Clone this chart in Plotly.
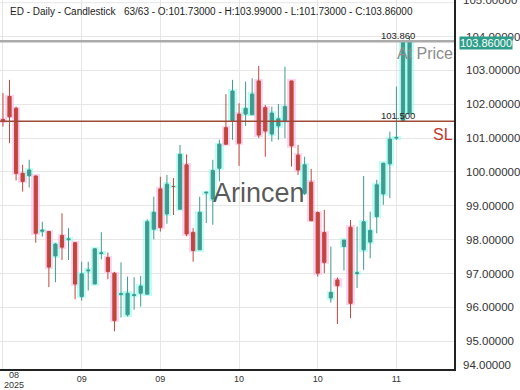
import plotly.graph_objects as go

# ---------------- data ----------------
opens = [101.55, 102.23, 101.88, 99.96, 99.89, 99.88, 98.25, 98.24, 97.52, 98.12,
         98.00, 97.91, 96.32, 97.08, 96.69, 97.59, 97.47, 97.01, 96.38, 95.78,
         96.35, 96.42, 96.39, 98.31, 99.50, 98.76, 99.57, 98.90, 100.21, 98.21,
         97.70, 99.38, 99.20, 100.11, 101.31, 101.52, 101.71, 101.71, 101.69, 102.69,
         101.90, 101.12, 101.36, 101.49, 102.69, 100.50, 99.37, 99.70, 98.80, 98.21,
         96.28, 96.81, 97.80, 98.37, 97.00, 97.70, 97.93, 98.68, 99.35, 100.24,
         101.00, 101.52, 101.73]
highs = [102.33, 102.72, 101.93, 100.21, 100.36, 99.90, 98.53, 98.26, 97.90, 98.78,
         98.34, 97.93, 97.35, 97.35, 97.75, 98.22, 97.62, 97.05, 97.33, 96.91,
         96.89, 96.93, 98.60, 99.27, 99.86, 99.91, 99.82, 100.80, 100.52, 98.34,
         99.27, 99.42, 100.36, 100.95, 102.30, 102.72, 102.03, 102.67, 102.77, 103.13,
         101.98, 101.93, 102.01, 103.11, 102.69, 100.80, 100.45, 100.09, 98.83, 98.88,
         97.80, 96.88, 97.99, 98.58, 98.39, 99.88, 98.83, 99.77, 100.26, 101.19,
         102.52, 103.90, 103.99]
lows = [101.34, 100.85, 99.75, 99.42, 99.54, 97.91, 98.09, 96.60, 96.74, 97.40,
        97.40, 96.24, 96.20, 96.50, 96.69, 97.42, 96.83, 95.29, 95.70, 95.73,
        95.93, 96.02, 96.39, 98.01, 98.24, 98.47, 98.73, 98.90, 98.10, 97.35,
        97.70, 98.49, 98.44, 99.72, 100.80, 100.95, 100.18, 101.36, 101.69, 101.00,
        100.45, 100.90, 100.95, 101.00, 100.16, 99.91, 99.32, 98.56, 96.91, 97.01,
        96.14, 95.51, 97.09, 95.68, 96.57, 97.11, 97.45, 98.19, 99.03, 99.23,
        100.95, 101.50, 101.73]
closes = [101.50, 101.63, 99.96, 99.72, 100.06, 98.19, 98.28, 97.19, 97.87, 97.78,
          98.02, 96.69, 96.99, 97.10, 97.73, 97.61, 97.06, 95.61, 96.40, 96.42,
          96.37, 96.63, 98.53, 98.81, 98.36, 99.64, 99.57, 100.52, 98.17, 97.68,
          98.81, 99.40, 100.04, 100.82, 100.82, 102.39, 100.85, 101.88, 102.30, 101.09,
          101.21, 101.74, 101.57, 101.93, 100.77, 100.06, 100.21, 98.56, 97.01, 97.33,
          96.44, 96.64, 97.99, 96.12, 97.02, 98.53, 98.27, 99.62, 100.26, 100.97,
          101.02, 103.85, 103.86]

tick_idx = [0, 12, 24, 36, 48, 60]
tick_text = ["", "09", "09", "10", "10", "11"]
first_tick_month = "08"
first_tick_year = "2025"

y_ticks = [95, 96, 97, 98, 99, 100, 101, 102, 103, 104]
y_tick_text = ["%.5f" % v for v in y_ticks]
top_tick = 105
bottom_tick_label = "94.00000"

at_price = 103.86
sl_price = 101.50
title_text = ("ED - Daily - Candlestick   63/63 - O:101.73000 - H:103.99000 - "
              "L:101.73000 - C:103.86000")

# ---------------- figure ----------------
RED = "#c1473d"
TEAL = "#3f9a8f"
x = list(range(len(opens)))

halo_base = [min(o, c) - 0.05 for o, c in zip(opens, closes)]
halo_h = [abs(c - o) + 0.1 for o, c in zip(opens, closes)]
halo_col = ["rgba(150,255,240,0.6)" if c >= o else "rgba(255,185,232,0.6)"
            for o, c in zip(opens, closes)]

fig = go.Figure()
fig.add_trace(go.Bar(x=x, y=halo_h, base=halo_base, width=1.3,
                     marker=dict(color=halo_col, line=dict(width=0)),
                     hoverinfo="skip", showlegend=False))
fig.add_trace(go.Candlestick(
    x=x, open=opens, high=highs, low=lows, close=closes,
    increasing=dict(line=dict(color=TEAL, width=1), fillcolor=TEAL),
    decreasing=dict(line=dict(color=RED, width=1), fillcolor=RED),
    whiskerwidth=0, showlegend=False))

fig.add_hline(y=at_price, line=dict(color="#ababab", width=2.5))
fig.add_hline(y=sl_price, line=dict(color="#9e4a3a", width=1.5))

FONT = "Liberation Sans, Arial, sans-serif"
NARROW = "Liberation Sans Narrow, Liberation Sans, Arial, sans-serif"

fig.update_layout(
    width=520, height=390,
    margin=dict(l=0, r=61, t=0, b=21),
    paper_bgcolor="white", plot_bgcolor="white",
    font=dict(family=FONT, size=10, color="#333"),
    bargap=0,
    xaxis=dict(range=[-0.4525, 68.78], tickmode="array", tickvals=tick_idx,
               ticktext=tick_text, showgrid=True, gridcolor="#e6e6e6",
               gridwidth=1, zeroline=False, showline=True, linecolor="#222",
               linewidth=1.5, ticks="", tickfont=dict(size=9, color="#333"),
               rangeslider=dict(visible=False), fixedrange=True),
    yaxis=dict(range=[94.18, 105.08], side="right", tickmode="array",
               tickvals=y_ticks, ticktext=y_tick_text, showgrid=True,
               gridcolor="#e6e6e6", gridwidth=1, zeroline=False,
               showline=True, linecolor="#222", linewidth=1.5, ticks="",
               ticklabelstandoff=8,
               tickfont=dict(family=NARROW, size=11.5, color="#333")),
)
fig.add_hline(y=top_tick, line=dict(color="#e6e6e6", width=1), layer="below")

ann = []
ann.append(dict(text=title_text, xref="paper", yref="paper", x=8 / 459,
                y=1 - 12 / 369, xanchor="left", yanchor="middle",
                showarrow=False, font=dict(size=10, color="#222", family=FONT)))
ann.append(dict(text="At Price", xref="paper", yref="y", x=453 / 459, y=103.49,
                xanchor="right", yanchor="middle", showarrow=False, xshift=7,
                font=dict(size=16, color="#8c8c8c", family=FONT)))
ann.append(dict(text="SL", xref="paper", yref="y", x=453 / 459, y=101.12,
                xanchor="right", yanchor="middle", showarrow=False, xshift=7,
                font=dict(size=16, color="#c0392b", family=FONT)))
ann.append(dict(text="Arincen", xref="paper", yref="y", x=260 / 459, y=99.38,
                xanchor="center", yanchor="middle", showarrow=False, xshift=2,
                font=dict(size=27, color="rgba(60,60,60,0.85)", family=FONT)))
ann.append(dict(text="%.3f" % at_price, xref="x", yref="y", x=60.3, y=at_price,
                xanchor="center", yanchor="bottom", showarrow=False, yshift=-2,
                font=dict(size=9.5, color="#222", family=FONT)))
ann.append(dict(text="%.3f" % sl_price, xref="x", yref="y", x=60.3, y=sl_price,
                xanchor="center", yanchor="bottom", showarrow=False, yshift=-2,
                font=dict(size=9.5, color="#222", family=FONT)))
ann.append(dict(text="%.5f" % top_tick, xref="paper", yref="y", x=1, y=top_tick,
                xanchor="left", yanchor="middle", showarrow=False, xshift=7,
                yshift=3, font=dict(size=11.5, color="#333", family=NARROW)))
ann.append(dict(text="%.5f" % closes[-1], xref="paper", yref="y", x=1, y=closes[-1],
                xanchor="left", yanchor="middle", showarrow=False, xshift=5,
                yshift=-2, bgcolor="#2e9e8a", borderpad=0,
                font=dict(size=11, color="white", family=NARROW)))
ann.append(dict(text=bottom_tick_label, xref="paper", yref="paper", x=1,
                y=(369 - 365) / 369, xanchor="left", yanchor="middle",
                showarrow=False, xshift=7,
                font=dict(size=11.5, color="#333", family=NARROW)))
ann.append(dict(text=first_tick_month, xref="paper", yref="paper", x=14 / 459,
                y=(369 - 375) / 369, xanchor="center", yanchor="middle",
                showarrow=False, font=dict(size=9, color="#333", family=FONT)))
ann.append(dict(text=first_tick_year, xref="paper", yref="paper", x=14 / 459,
                y=(369 - 385) / 369, xanchor="center", yanchor="middle",
                showarrow=False, font=dict(size=9, color="#333", family=FONT)))
fig.update_layout(annotations=ann)

fig.write_html("out.html")
